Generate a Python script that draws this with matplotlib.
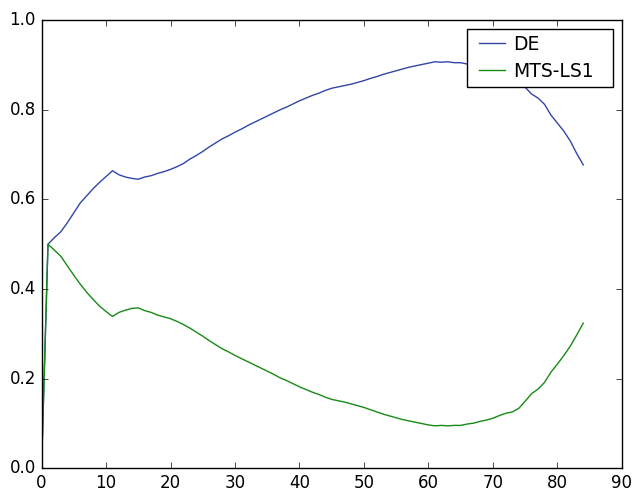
import matplotlib
matplotlib.use('Agg')
import matplotlib.pyplot as plt
import numpy as np

plt.style.use('classic')

# generation index
steps = np.arange(0, 85)

de = [0.0, 0.50, 0.515, 0.528, 0.548, 0.570, 0.592, 0.608, 0.624, 0.638,
      0.651, 0.664, 0.655, 0.650, 0.647, 0.645, 0.650, 0.653, 0.658, 0.662,
      0.667, 0.673, 0.680, 0.690, 0.698, 0.707, 0.717, 0.726, 0.735, 0.742,
      0.750, 0.757, 0.765, 0.772, 0.779, 0.786, 0.793, 0.800, 0.806, 0.813,
      0.820, 0.826, 0.832, 0.837, 0.843, 0.848, 0.851, 0.854, 0.857, 0.861,
      0.865, 0.870, 0.874, 0.879, 0.883, 0.887, 0.891, 0.895, 0.898, 0.901,
      0.904, 0.907, 0.906, 0.907, 0.905, 0.905, 0.902, 0.899, 0.896, 0.893,
      0.889, 0.884, 0.878, 0.870, 0.861, 0.850, 0.835, 0.826, 0.812, 0.788,
      0.770, 0.752, 0.730, 0.702, 0.677]

mts_ls1 = [0.0, 0.50, 0.487, 0.473, 0.452, 0.431, 0.411, 0.393, 0.377, 0.362,
           0.350, 0.339, 0.348, 0.353, 0.357, 0.358, 0.352, 0.348, 0.342, 0.338,
           0.334, 0.328, 0.321, 0.313, 0.304, 0.295, 0.285, 0.276, 0.267, 0.260,
           0.252, 0.245, 0.238, 0.231, 0.224, 0.217, 0.210, 0.202, 0.196, 0.189,
           0.182, 0.176, 0.170, 0.165, 0.159, 0.154, 0.151, 0.148, 0.144, 0.140,
           0.136, 0.131, 0.126, 0.121, 0.117, 0.113, 0.109, 0.106, 0.103, 0.100,
           0.097, 0.095, 0.096, 0.095, 0.096, 0.096, 0.099, 0.101, 0.105, 0.108,
           0.112, 0.118, 0.123, 0.126, 0.134, 0.150, 0.167, 0.177, 0.192, 0.215,
           0.233, 0.252, 0.273, 0.298, 0.324]

fig = plt.figure(figsize=(6.34, 4.9), dpi=100, facecolor='white')
ax = fig.add_subplot(1, 1, 1)
fig.subplots_adjust(left=0.0655, right=0.981, bottom=0.044, top=0.959)

ax.plot(steps, de, color='#3346a8', linewidth=1, label='DE')
ax.plot(steps, mts_ls1, color='#178a17', linewidth=1, label='MTS-LS1')

ax.set_xlim(0, 90)
ax.set_ylim(0, 1.0)

ax.legend(loc='upper left', bbox_to_anchor=(0.7335, 0.858, 0.2505, 0.122),
          mode='expand', borderaxespad=0, fontsize=13.5,
          handlelength=2.0, handletextpad=0.15, borderpad=0.32,
          labelspacing=0.4)

fig.savefig('out.png', dpi=100, facecolor='white')
